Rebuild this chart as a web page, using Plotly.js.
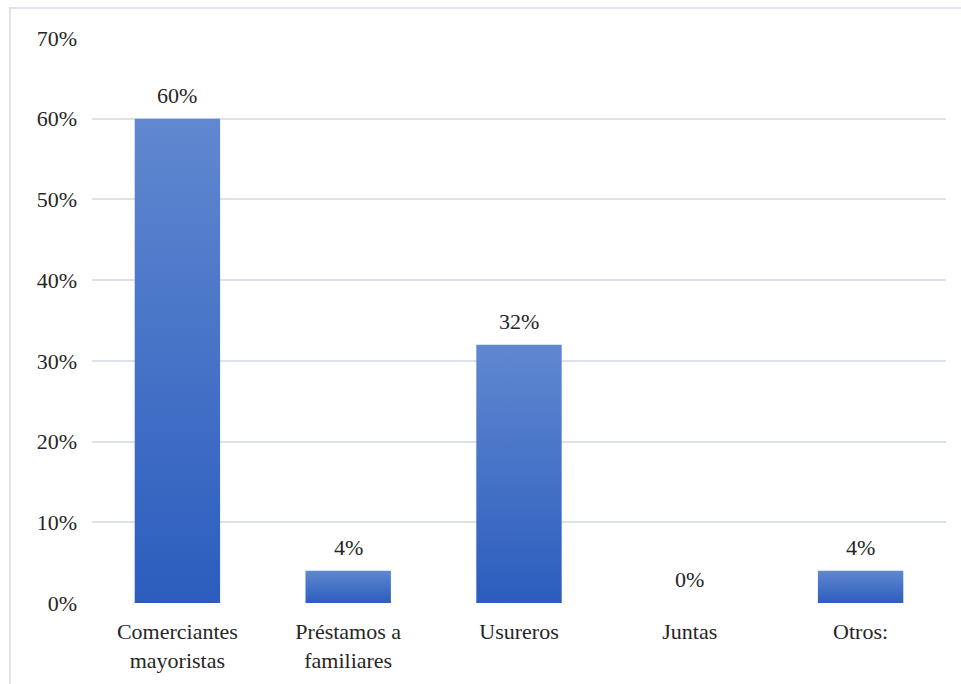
<!DOCTYPE html>
<html>
<head>
<meta charset="utf-8">
<script src="https://cdn.plot.ly/plotly-3.0.1.min.js"></script>
<style>
  html, body { margin:0; padding:0; background:#ffffff; }
  #frame { position:absolute; left:9px; top:7px; width:1000px; height:720px; border:2px solid #dfe4ec; box-sizing:border-box; }
  #chart { position:absolute; left:0; top:0; width:961px; height:684px; }
</style>
</head>
<body>
<div id="frame"></div>
<div id="chart"></div>
<script>
const categories = ["Comerciantes<br>mayoristas", "Préstamos a<br>familiares", "Usureros", "Juntas", "Otros:"];
const values = [0.60, 0.04, 0.32, 0.00, 0.04];
const yTickValues = [0, 0.1, 0.2, 0.3, 0.4, 0.5, 0.6, 0.7];
const yTickLabels = ["0%", "10%", "20%", "30%", "40%", "50%", "60%", "70%"];

const fontFamily = "Liberation Serif";

const trace = {
  type: 'bar',
  x: categories,
  y: values,
  marker: { color: '#3a68c4', line: { width: 0 } },
  hoverinfo: 'none'
};

const labelAnnotations = categories.map((c, i) => ({
  x: c,
  y: values[i],
  xref: 'x',
  yref: 'y',
  text: Math.round(values[i] * 100) + '%',
  showarrow: false,
  yanchor: 'bottom',
  yshift: 9,
  font: { family: fontFamily, size: 22, color: '#262626' }
}));

const layout = {
  width: 961,
  height: 684,
  margin: { l: 92, r: 15, t: 38, b: 81 },
  paper_bgcolor: 'rgba(0,0,0,0)',
  plot_bgcolor: 'rgba(0,0,0,0)',
  bargap: 0.5,
  showlegend: false,
  font: { family: fontFamily, size: 22, color: '#262626' },
  annotations: labelAnnotations,
  xaxis: {
    showgrid: false,
    showline: false,
    zeroline: false,
    ticks: '',
    ticklabelstandoff: 13,
    tickfont: { family: fontFamily, size: 22, color: '#262626' }
  },
  yaxis: {
    range: [0, 0.7],
    tickvals: yTickValues,
    ticktext: yTickLabels,
    showgrid: true,
    gridcolor: '#dde1ea',
    gridwidth: 2,
    zeroline: false,
    showline: false,
    ticks: '',
    ticklabelstandoff: 14,
    tickfont: { family: fontFamily, size: 22, color: '#262626' }
  }
};

Plotly.newPlot('chart', [trace], layout, { displayModeBar: false, staticPlot: true }).then(gd => {
  const svg = gd.querySelector('svg.main-svg');
  const ns = 'http://www.w3.org/2000/svg';
  let defs = svg.querySelector('defs');
  if (!defs) { defs = document.createElementNS(ns, 'defs'); svg.insertBefore(defs, svg.firstChild); }
  const grad = document.createElementNS(ns, 'linearGradient');
  grad.setAttribute('id', 'barGrad');
  grad.setAttribute('x1', '0'); grad.setAttribute('y1', '0');
  grad.setAttribute('x2', '0'); grad.setAttribute('y2', '1');
  [['0%', '#6088d0'], ['100%', '#2c5dbe']].forEach(([o, c]) => {
    const s = document.createElementNS(ns, 'stop');
    s.setAttribute('offset', o); s.setAttribute('stop-color', c);
    grad.appendChild(s);
  });
  defs.appendChild(grad);
  gd.querySelectorAll('.bars .point path').forEach(p => {
    p.style.fill = 'url(#barGrad)';
  });
});
</script>
</body>
</html>
